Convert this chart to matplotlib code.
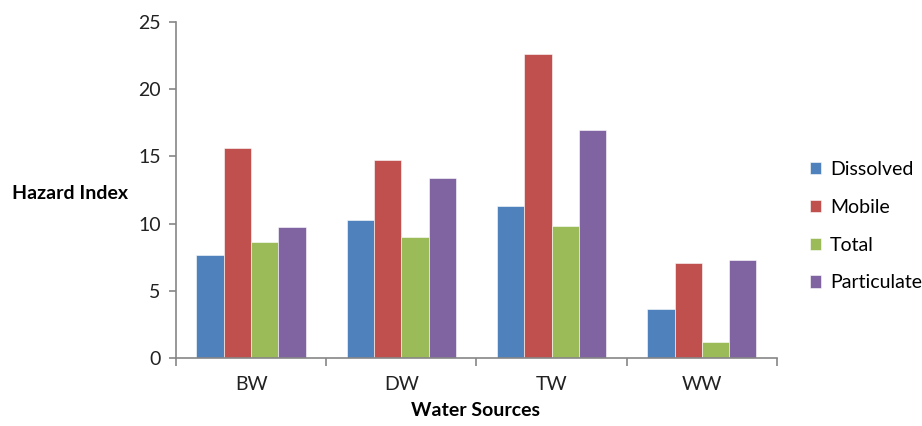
import numpy as np
import matplotlib
matplotlib.use("Agg")
import matplotlib.pyplot as plt

# values
sources = ["BW", "DW", "TW", "WW"]
dissolved = [7.65, 10.3, 11.3, 3.65]
mobile = [15.6, 14.7, 22.6, 7.1]
total = [8.65, 9.0, 9.8, 1.2]
particulate = [9.75, 13.4, 17.0, 7.3]

series_names = ["Dissolved", "Mobile", "Total", "Particulate"]
colors = ["#4F81BD", "#C0504D", "#9BBB59", "#8064A2"]

plt.rcParams['font.family'] = ['Lato', 'DejaVu Sans']

fig = plt.figure(figsize=(9.22, 4.26), dpi=100)
ax = fig.add_axes([0.1909, 0.1596, 0.8427 - 0.1909, 0.9484 - 0.1596])

x = np.arange(len(sources))
width = 1 / 5.5   # excel gap width 150%
data = [dissolved, mobile, total, particulate]
for i, (vals, name, col) in enumerate(zip(data, series_names, colors)):
	ax.bar(x + (i - 1.5) * width, vals, width, color=col, label=name,
	       edgecolor="white", linewidth=0.4)

ax.set_xlim(-0.5, len(sources) - 0.5)
ax.set_ylim(0, 25)
ax.set_yticks(range(0, 26, 5))

# category labels, tick marks between groups
ax.set_xticks(x)
ax.set_xticklabels(sources)
ax.set_xticks(np.arange(-0.5, len(sources)), minor=True)
ax.tick_params(axis='x', which='major', length=0, pad=13, labelsize=14, colors='#222222')
ax.tick_params(axis='x', which='minor', length=6, width=1.2, color='#868686', direction='out')
ax.tick_params(axis='y', length=5, width=1.2, color='#868686', pad=6, labelsize=14,
               labelcolor='#222222')

for side in ['top', 'right']:
	ax.spines[side].set_visible(False)
for side in ['left', 'bottom']:
	ax.spines[side].set_color('#868686')
	ax.spines[side].set_linewidth(1.2)

fig.text(0.0757, 0.546, "Hazard Index", fontsize=14, fontweight='bold', ha='center', va='center')
fig.text(0.516, 0.037, "Water Sources", fontsize=14, fontweight='bold', ha='center', va='center')

ax.legend(loc='upper left', bbox_to_anchor=(0.878, 0.622), bbox_transform=fig.transFigure,
          frameon=False, fontsize=14, handlelength=0.6, handleheight=0.6,
          handletextpad=0.45, labelspacing=1.07, borderaxespad=0, borderpad=0)

fig.savefig("out.png", dpi=100)
